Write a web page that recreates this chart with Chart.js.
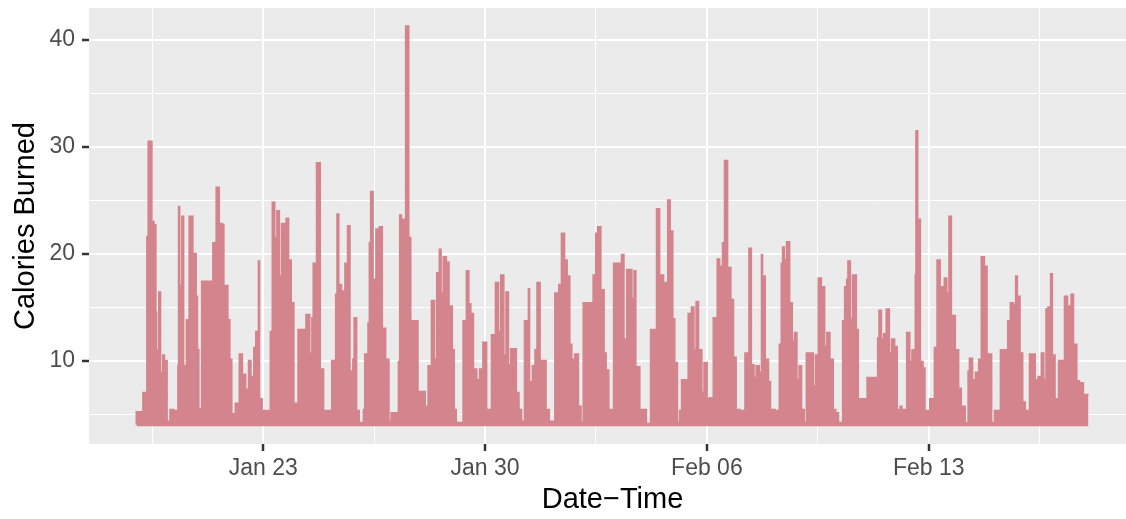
<!DOCTYPE html>
<html>
<head>
<meta charset="utf-8">
<script src="https://cdn.jsdelivr.net/npm/chart.js@4.4.1/dist/chart.umd.min.js"></script>
<style>
  html, body { margin: 0; padding: 0; background: #fff; overflow: hidden; }
  canvas { display: block; }
</style>
</head>
<body>
<!-- the ggplot panel runs past the right edge of the picture, so the canvas is a little wider than the window -->
<canvas id="chart1" width="1136" height="519"></canvas>
<script>
// hours since Jan 19 00:00, and the calories value holding from that hour on
const hours = [
  0, 4, 5, 8, 9, 11.5, 13, 14.5, 15, 17,
  18, 20, 21, 23, 25.5, 28, 29, 30.5, 31.5, 32,
  32.5, 34.5, 35.5, 38, 40, 42.5, 45, 46, 47, 48.5,
  49.5, 58, 60.5, 62.5, 65, 66, 69, 70.5, 72, 74,
  75, 78, 80, 82.5, 85, 86.5, 89, 90.5, 92.5, 93,
  95, 96, 100, 101.5, 103, 104.5, 106.5, 108, 110, 112,
  113.5, 115, 117, 119, 121.5, 122.5, 128.5, 131, 133, 134,
  136.5, 139, 141.5, 143, 146.5, 148, 151, 152, 153, 155,
  156.5, 158, 160, 161.5, 164, 165, 166.5, 168.5, 172, 173,
  175.5, 176.5, 177.5, 179, 181.5, 184, 186, 188.5, 191, 193,
  197, 198.5, 199.5, 200.5, 202.5, 204, 206, 207.5, 209.5, 211,
  213, 215, 216, 218.5, 221, 223.5, 225.5, 227.5, 229.5, 230.5,
  232.5, 234.5, 236.5, 239, 240.5, 242, 247.5, 248.5, 250, 251.5,
  252.5, 253, 255, 257.5, 260, 262.5, 265, 267.5, 269, 272,
  274, 276, 278, 280, 281.5, 283.5, 287.5, 289.5, 291.5, 294,
  297, 297.5, 300, 302, 303.5, 305.5, 310, 312.5, 317, 320,
  322, 324, 326, 328, 329.5, 332, 334.5, 336.5, 338.5, 346,
  348, 349.5, 351.5, 354, 355.5, 357.5, 360, 361.5, 367.5, 369,
  371.5, 375, 377, 378, 381, 386, 389.5, 394, 396, 399,
  400, 402.5, 404, 406, 407.5, 409.5, 411.5, 413, 418, 419,
  420.5, 422, 424, 425.5, 428, 430, 432, 434, 435.5, 437,
  440, 441.5, 444, 445.5, 447.5, 450, 452, 454, 457, 458.5,
  460, 461, 464, 465.5, 467.5, 469.5, 471.5, 473.5, 474, 476,
  477.5, 478.5, 480, 483.5, 484.5, 486, 487, 488.5, 489.5, 490.5,
  492.5, 494.5, 496.5, 498.5, 500, 502, 503.5, 505.5, 507.5, 512.5,
  514.5, 516.5, 518.5, 521, 523, 525, 527.5, 529.5, 531.5, 535,
  536.5, 538, 539, 540.5, 542.5, 545, 546.5, 552, 553.5, 561.5,
  562.5, 564, 566, 568, 570, 572, 574, 576, 578.5, 579.5,
  582, 583.5, 585.5, 587.5, 590, 590.5, 591.5, 593.5, 595.5, 597,
  601, 604.5, 606.5, 608.5, 610.5, 612, 613.5, 615.5, 617, 620,
  621.5, 622.5, 624.5, 627.5, 630, 631, 633, 635.5, 638, 640,
  642, 644, 645.5, 647.5, 650, 651, 652.5, 653, 654.5, 658.5,
  660, 662, 664, 666, 667, 669, 671, 673, 675, 676.5,
  680.5, 683, 685.5, 687, 689, 690.5, 692.5, 693.5, 695.5, 697.5,
  698.5, 703, 705, 707, 708, 709.5, 712, 714, 717, 719.5, 721
];
const calories = [
  4.0, 5.2, 4.1, 7.0, 21.6, 30.5, 23.0, 22.7, 14.5, 11.0,
  16.4, 8.9, 10.5, 10.0, 4.3, 5.4, 4.1, 5.3, 4.2, 9.5,
  24.4, 17.0, 23.5, 9.5, 13.8, 23.5, 20.0, 16.0, 11.0, 5.5,
  4.2, 17.4, 21.0, 26.2, 22.8, 22.7, 17.0, 13.8, 10.1, 5.0,
  4.2, 6.0, 10.6, 8.7, 7.3, 10.0, 8.5, 11.2, 12.7, 19.3,
  6.4, 4.2, 5.3, 4.2, 12.7, 24.8, 21.5, 24.0, 17.9, 22.8,
  18.8, 23.3, 19.4, 15.4, 6.0, 4.2, 12.9, 14.3, 10.7, 14.0,
  19.1, 28.5, 9.2, 5.1, 5.3, 4.2, 10.0, 16.2, 23.7, 17.1,
  13.7, 16.5, 19.1, 22.6, 9.0, 10.1, 14.0, 5.3, 4.2, 5.4,
  10.6, 13.5, 21.0, 25.8, 17.6, 22.3, 22.5, 13.0, 10.1, 4.3,
  5.1, 4.2, 9.9, 23.6, 23.2, 21.3, 41.3, 21.5, 13.7, 13.0,
  13.7, 7.1, 4.5, 7.1, 5.7, 9.5, 15.6, 10.1, 18.2, 20.4,
  16.3, 19.7, 19.2, 15.1, 11.0, 5.4, 4.2, 13.7, 12.7, 18.4,
  5.7, 15.3, 14.4, 9.2, 8.2, 9.2, 11.7, 5.4, 4.2, 12.4,
  17.3, 12.7, 18.0, 10.5, 16.4, 9.6, 11.1, 7.0, 5.4, 4.3,
  13.7, 16.7, 8.0, 9.5, 11.0, 17.3, 10.0, 5.4, 4.3, 16.3,
  17.1, 21.9, 19.4, 17.9, 11.5, 10.1, 10.6, 5.7, 4.2, 15.4,
  18.0, 21.9, 22.5, 16.6, 10.7, 9.1, 5.4, 4.2, 19.1, 19.9,
  12.0, 18.5, 15.8, 18.4, 9.4, 5.4, 4.1, 12.9, 24.2, 18.0,
  13.9, 17.3, 25.0, 22.1, 13.9, 9.8, 4.2, 5.3, 8.2, 14.4,
  8.4, 15.0, 11.0, 15.5, 11.0, 7.0, 9.8, 6.4, 6.5, 4.2,
  14.0, 19.5, 18.8, 21.0, 28.7, 18.7, 15.7, 10.3, 5.4, 4.3,
  5.3, 4.2, 10.7, 20.5, 9.6, 8.4, 9.5, 8.9, 19.9, 17.9,
  9.2, 10.1, 8.0, 5.4, 4.2, 5.3, 4.2, 11.5, 19.1, 20.6,
  19.4, 21.1, 15.4, 11.8, 12.6, 8.2, 9.5, 5.4, 4.2, 10.7,
  7.6, 10.5, 17.7, 16.9, 11.3, 12.6, 10.1, 5.4, 5.1, 4.2,
  13.7, 16.9, 17.6, 19.3, 13.9, 18.0, 12.9, 6.4, 4.2, 8.4,
  12.1, 14.7, 12.0, 12.5, 14.8, 10.7, 12.0, 11.3, 5.4, 5.7,
  5.4, 4.3, 12.6, 9.9, 11.0, 18.0, 31.5, 23.2, 9.9, 9.3,
  5.3, 6.4, 11.2, 19.4, 16.9, 14.0, 17.7, 16.3, 23.5, 14.2,
  7.3, 11.0, 7.4, 5.7, 4.2, 9.0, 10.2, 8.2, 8.9, 10.1,
  19.7, 18.8, 5.7, 10.6, 4.2, 5.3, 4.2, 5.3, 4.2, 11.0,
  9.5, 13.7, 15.4, 15.2, 17.9, 16.0, 10.7, 6.1, 5.3, 4.3,
  10.6, 8.2, 8.5, 10.7, 8.2, 14.8, 15.0, 18.1, 10.5, 6.4,
  4.3, 10.0, 16.0, 15.1, 8.9, 16.2, 11.5, 8.1, 7.9, 6.8, 6.8
];

// x axis: major ticks (labelled dates) and minor gridlines, in hours since Jan 19
const xTickHours = [96, 264, 432, 600];
const xTickLabels = ['Jan 23', 'Jan 30', 'Feb 06', 'Feb 13'];
const xMinorHours = [12, 180, 348, 516, 684];
const yTicks = [10, 20, 30, 40];
const yMinor = [5, 15, 25, 35];

const lineColor = '#D4848C';
const fontFamily = '"Liberation Sans", Arial, Helvetica, sans-serif';

const points = hours.map((h, i) => ({ x: h, y: calories[i] }));

// grey panel background like ggplot
const panelBg = {
  id: 'panelBg',
  beforeDraw(chart) {
    const { ctx, chartArea: a } = chart;
    ctx.save();
    ctx.fillStyle = '#EBEBEB';
    ctx.fillRect(a.left, a.top, a.right - a.left, a.bottom - a.top);
    ctx.restore();
  }
};

const ctx = document.getElementById('chart1').getContext('2d');

new Chart(ctx, {
  type: 'line',
  data: {
    datasets: [{
      data: points,
      borderColor: lineColor,
      backgroundColor: lineColor,
      borderWidth: 2,
      pointRadius: 0,
      stepped: 'after',
      fill: { value: 3.85 }
    }]
  },
  options: {
    responsive: false,
    animation: false,
    layout: { padding: { top: 8, right: 0, left: 0, bottom: 0 } },
    plugins: {
      legend: { display: false },
      tooltip: { enabled: false }
    },
    scales: {
      x: {
        type: 'linear',
        min: -36,
        max: 757,
        afterBuildTicks: s => {
          s.ticks = xMinorHours.concat(xTickHours).sort((a, b) => a - b).map(v => ({ value: v }));
        },
        afterFit: s => { s.height = 75; s.paddingLeft = 0; s.paddingRight = 0; },
        border: { display: false },
        grid: {
          color: '#FFFFFF',
          lineWidth: c => xTickHours.includes(c.tick.value) ? 2 : 1,
          tickLength: 7,
          tickWidth: 2.5,
          tickColor: c => xTickHours.includes(c.tick.value) ? '#333333' : 'rgba(0,0,0,0)'
        },
        ticks: {
          autoSkip: false,
          maxRotation: 0,
          padding: 4,
          color: '#4D4D4D',
          font: { family: fontFamily, size: 23 },
          callback: v => {
            const i = xTickHours.indexOf(v);
            return i >= 0 ? xTickLabels[i] : '';
          }
        },
        title: {
          display: true,
          text: 'Date\u2212Time',
          color: '#000000',
          font: { family: fontFamily, size: 29 },
          padding: { top: 0, bottom: 2 }
        }
      },
      y: {
        min: 2.2,
        max: 43,
        afterBuildTicks: s => {
          s.ticks = yMinor.concat(yTicks).sort((a, b) => a - b).map(v => ({ value: v }));
        },
        afterFit: s => { s.width = 89; s.paddingTop = 0; s.paddingBottom = 0; },
        border: { display: false },
        grid: {
          color: '#FFFFFF',
          lineWidth: c => yTicks.includes(c.tick.value) ? 2 : 1,
          tickLength: 7,
          tickWidth: 2.5,
          tickColor: c => yTicks.includes(c.tick.value) ? '#333333' : 'rgba(0,0,0,0)'
        },
        ticks: {
          autoSkip: false,
          padding: 7,
          color: '#4D4D4D',
          font: { family: fontFamily, size: 23 },
          callback: v => yTicks.includes(v) ? String(v) : ''
        },
        title: {
          display: true,
          text: 'Calories Burned',
          color: '#000000',
          font: { family: fontFamily, size: 29 },
          padding: { top: 9, bottom: 0 }
        }
      }
    }
  },
  plugins: [panelBg]
});
</script>
</body>
</html>
